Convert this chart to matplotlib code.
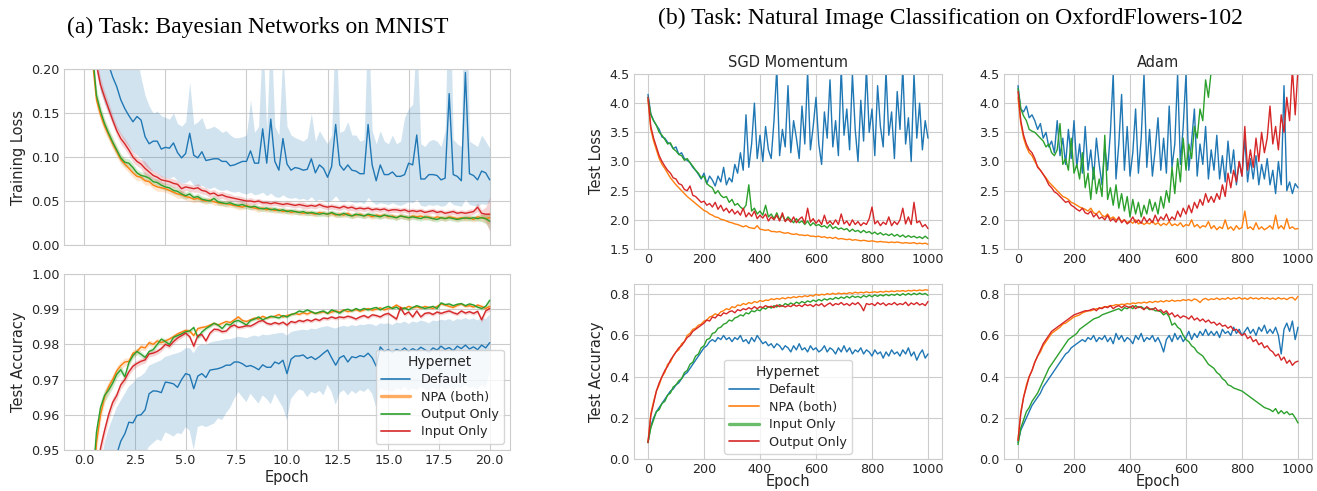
import numpy as np
import matplotlib
matplotlib.use("Agg")
import matplotlib.pyplot as plt
import seaborn as sns
from matplotlib.lines import Line2D

# ---------------------------------------------------------------- data
# (a) Bayesian networks on MNIST, logged every 0.2 epoch
mnist_epochs = np.round(np.arange(1, 101) * 0.2, 1)

mnist_loss_default = np.array([
    0.400, 0.320, 0.270, 0.240, 0.220, 0.205, 0.191, 0.180, 0.165, 0.155,
    0.147, 0.140, 0.146, 0.142, 0.123, 0.115, 0.118, 0.118, 0.109, 0.111,
    0.110, 0.116, 0.105, 0.099, 0.104, 0.127, 0.102, 0.099, 0.106, 0.096,
    0.097, 0.098, 0.098, 0.095, 0.095, 0.090, 0.091, 0.093, 0.095, 0.095,
    0.107, 0.093, 0.093, 0.132, 0.093, 0.143, 0.095, 0.085, 0.121, 0.092,
    0.085, 0.088, 0.087, 0.085, 0.086, 0.098, 0.082, 0.091, 0.087, 0.077,
    0.089, 0.137, 0.091, 0.085, 0.091, 0.085, 0.084, 0.081, 0.081, 0.137,
    0.091, 0.073, 0.091, 0.080, 0.080, 0.083, 0.078, 0.078, 0.080, 0.093,
    0.091, 0.125, 0.075, 0.075, 0.080, 0.080, 0.079, 0.074, 0.076, 0.172,
    0.080, 0.078, 0.073, 0.196, 0.081, 0.079, 0.074, 0.084, 0.082, 0.074])
mnist_loss_default_hi = np.array([
    0.600, 0.500, 0.420, 0.380, 0.350, 0.330, 0.310, 0.290, 0.270, 0.250,
    0.240, 0.230, 0.215, 0.190, 0.170, 0.158, 0.150, 0.152, 0.147, 0.145,
    0.143, 0.150, 0.138, 0.135, 0.140, 0.185, 0.137, 0.140, 0.145, 0.132,
    0.133, 0.135, 0.132, 0.128, 0.130, 0.125, 0.122, 0.122, 0.123, 0.125,
    0.165, 0.128, 0.135, 0.240, 0.130, 0.250, 0.135, 0.125, 0.220, 0.135,
    0.125, 0.122, 0.120, 0.118, 0.122, 0.150, 0.118, 0.130, 0.122, 0.115,
    0.125, 0.260, 0.128, 0.130, 0.140, 0.125, 0.125, 0.118, 0.120, 0.260,
    0.130, 0.115, 0.130, 0.118, 0.115, 0.125, 0.115, 0.118, 0.145, 0.155,
    0.160, 0.240, 0.115, 0.112, 0.118, 0.120, 0.118, 0.112, 0.130, 0.330,
    0.120, 0.115, 0.112, 0.380, 0.118, 0.115, 0.112, 0.125, 0.118, 0.110])
mnist_loss_default_lo = np.array([
    0.300, 0.240, 0.200, 0.175, 0.160, 0.150, 0.140, 0.132, 0.125, 0.118,
    0.112, 0.106, 0.102, 0.098, 0.090, 0.086, 0.084, 0.082, 0.078, 0.077,
    0.076, 0.078, 0.073, 0.070, 0.071, 0.074, 0.068, 0.067, 0.068, 0.065,
    0.064, 0.066, 0.063, 0.062, 0.063, 0.061, 0.060, 0.061, 0.059, 0.058,
    0.060, 0.057, 0.058, 0.060, 0.056, 0.059, 0.055, 0.054, 0.057, 0.054,
    0.053, 0.054, 0.052, 0.053, 0.051, 0.055, 0.050, 0.052, 0.051, 0.049,
    0.051, 0.056, 0.050, 0.049, 0.051, 0.049, 0.048, 0.049, 0.047, 0.054,
    0.049, 0.046, 0.048, 0.047, 0.046, 0.048, 0.046, 0.045, 0.047, 0.049,
    0.048, 0.052, 0.045, 0.044, 0.046, 0.045, 0.046, 0.044, 0.045, 0.050,
    0.046, 0.045, 0.044, 0.052, 0.046, 0.045, 0.044, 0.047, 0.046, 0.049])

mnist_loss_npa = np.array([
    0.380, 0.210, 0.165, 0.148, 0.135, 0.125, 0.115, 0.106, 0.097, 0.092,
    0.087, 0.082, 0.078, 0.077, 0.073, 0.072, 0.068, 0.066, 0.065, 0.064,
    0.062, 0.060, 0.058, 0.057, 0.055, 0.054, 0.052, 0.053, 0.051, 0.050,
    0.051, 0.049, 0.048, 0.047, 0.047, 0.046, 0.045, 0.044, 0.043, 0.045,
    0.043, 0.042, 0.041, 0.042, 0.040, 0.041, 0.039, 0.040, 0.038, 0.039,
    0.037, 0.038, 0.037, 0.036, 0.037, 0.036, 0.035, 0.037, 0.036, 0.035,
    0.036, 0.034, 0.035, 0.034, 0.036, 0.033, 0.034, 0.035, 0.033, 0.034,
    0.032, 0.034, 0.033, 0.034, 0.032, 0.033, 0.031, 0.033, 0.032, 0.031,
    0.033, 0.032, 0.033, 0.031, 0.032, 0.030, 0.032, 0.031, 0.030, 0.032,
    0.031, 0.030, 0.031, 0.030, 0.031, 0.029, 0.032, 0.031, 0.030, 0.031])
mnist_loss_output = np.array([
    0.400, 0.220, 0.170, 0.152, 0.138, 0.127, 0.117, 0.108, 0.099, 0.094,
    0.093, 0.088, 0.082, 0.079, 0.078, 0.076, 0.072, 0.071, 0.068, 0.066,
    0.065, 0.062, 0.061, 0.058, 0.056, 0.058, 0.054, 0.055, 0.052, 0.051,
    0.050, 0.053, 0.049, 0.048, 0.047, 0.048, 0.046, 0.045, 0.046, 0.044,
    0.043, 0.044, 0.042, 0.041, 0.042, 0.040, 0.041, 0.039, 0.040, 0.038,
    0.039, 0.038, 0.037, 0.038, 0.036, 0.037, 0.036, 0.035, 0.036, 0.035,
    0.037, 0.035, 0.034, 0.036, 0.034, 0.033, 0.035, 0.034, 0.033, 0.035,
    0.034, 0.033, 0.032, 0.034, 0.033, 0.032, 0.031, 0.033, 0.032, 0.031,
    0.032, 0.031, 0.030, 0.032, 0.031, 0.030, 0.029, 0.031, 0.030, 0.031,
    0.030, 0.029, 0.030, 0.031, 0.030, 0.031, 0.030, 0.031, 0.030, 0.027])
mnist_loss_input = np.array([
    0.450, 0.280, 0.205, 0.182, 0.168, 0.155, 0.142, 0.130, 0.121, 0.115,
    0.108, 0.100, 0.095, 0.092, 0.087, 0.083, 0.079, 0.077, 0.074, 0.073,
    0.072, 0.070, 0.069, 0.064, 0.066, 0.065, 0.064, 0.065, 0.062, 0.061,
    0.058, 0.059, 0.056, 0.057, 0.055, 0.054, 0.053, 0.052, 0.051, 0.050,
    0.050, 0.049, 0.050, 0.048, 0.048, 0.047, 0.048, 0.047, 0.046, 0.047,
    0.046, 0.045, 0.046, 0.045, 0.044, 0.045, 0.044, 0.046, 0.044, 0.043,
    0.044, 0.043, 0.042, 0.044, 0.042, 0.043, 0.041, 0.042, 0.041, 0.042,
    0.040, 0.041, 0.040, 0.041, 0.039, 0.040, 0.040, 0.039, 0.040, 0.038,
    0.039, 0.038, 0.039, 0.037, 0.038, 0.039, 0.037, 0.038, 0.036, 0.037,
    0.038, 0.036, 0.037, 0.036, 0.037, 0.038, 0.043, 0.036, 0.035, 0.035])

# spread of the seeds around each mean (loss in 1e-3)
mnist_loss_sd_npa = np.array([
    12, 10, 8, 7, 7, 6, 6, 6, 5, 5, 5, 5, 5, 4, 5, 4, 4, 5, 4, 4,
    4, 4, 5, 4, 4, 4, 4, 4, 3, 4, 3, 4, 3, 3, 4, 3, 3, 4, 3, 3,
    3, 3, 4, 3, 3, 3, 3, 3, 3, 3, 3, 3, 3, 3, 3, 3, 3, 3, 3, 3,
    3, 3, 3, 3, 3, 3, 3, 3, 3, 3, 3, 3, 3, 3, 3, 3, 3, 3, 3, 3,
    3, 3, 3, 3, 3, 3, 3, 3, 3, 3, 3, 3, 3, 3, 3, 3, 4, 4, 5, 7]) * 1e-3
mnist_loss_sd_output = np.array([
    12, 10, 8, 7, 6, 6, 6, 5, 5, 5, 5, 5, 4, 4, 5, 4, 4, 4, 4, 4,
    4, 4, 4, 4, 4, 4, 3, 4, 4, 3, 3, 3, 4, 3, 3, 3, 3, 3, 4, 3,
    3, 3, 3, 3, 3, 3, 3, 3, 3, 3, 3, 3, 3, 3, 3, 3, 3, 3, 3, 3,
    3, 3, 3, 3, 3, 3, 3, 3, 3, 3, 3, 3, 3, 3, 3, 3, 3, 3, 3, 3,
    3, 3, 3, 3, 3, 3, 3, 3, 3, 3, 3, 3, 3, 3, 3, 3, 3, 4, 6, 9]) * 1e-3
mnist_loss_sd_input = np.array([
    14, 12, 10, 8, 7, 7, 6, 6, 6, 6, 6, 6, 5, 5, 8, 6, 5, 5, 5, 4,
    4, 5, 4, 6, 4, 4, 4, 5, 4, 4, 4, 4, 4, 4, 4, 4, 3, 4, 4, 3,
    4, 3, 3, 3, 3, 3, 3, 3, 3, 3, 3, 3, 3, 4, 3, 3, 3, 3, 3, 3,
    3, 3, 3, 3, 3, 4, 3, 3, 3, 3, 3, 3, 3, 3, 3, 3, 3, 3, 3, 3,
    3, 3, 3, 3, 3, 3, 3, 3, 3, 3, 3, 3, 3, 3, 4, 3, 5, 4, 8, 20]) * 1e-3

mnist_acc_default = np.array([
    0.8000, 0.8600, 0.9000, 0.9200, 0.9320, 0.9400, 0.9450, 0.9488, 0.9525, 0.9546,
    0.9579, 0.9577, 0.9598, 0.9600, 0.9614, 0.9660, 0.9668, 0.9667, 0.9663, 0.9693,
    0.9691, 0.9688, 0.9678, 0.9700, 0.9717, 0.9713, 0.9674, 0.9710, 0.9717, 0.9706,
    0.9727, 0.9729, 0.9731, 0.9735, 0.9741, 0.9741, 0.9750, 0.9750, 0.9745, 0.9737,
    0.9740, 0.9735, 0.9728, 0.9742, 0.9735, 0.9735, 0.9750, 0.9745, 0.9755, 0.9717,
    0.9758, 0.9767, 0.9767, 0.9770, 0.9760, 0.9765, 0.9757, 0.9765, 0.9775, 0.9784,
    0.9762, 0.9741, 0.9762, 0.9768, 0.9750, 0.9765, 0.9762, 0.9768, 0.9765, 0.9775,
    0.9762, 0.9738, 0.9793, 0.9780, 0.9785, 0.9778, 0.9786, 0.9781, 0.9790, 0.9780,
    0.9788, 0.9782, 0.9792, 0.9785, 0.9778, 0.9790, 0.9784, 0.9795, 0.9786, 0.9791,
    0.9782, 0.9795, 0.9788, 0.9798, 0.9787, 0.9793, 0.9785, 0.9798, 0.9790, 0.9805])
mnist_acc_default_hi = np.array([
    0.8700, 0.9100, 0.9300, 0.9450, 0.9520, 0.9560, 0.9590, 0.9620, 0.9640, 0.9660,
    0.9680, 0.9690, 0.9705, 0.9710, 0.9720, 0.9740, 0.9745, 0.9750, 0.9755, 0.9765,
    0.9768, 0.9772, 0.9775, 0.9780, 0.9789, 0.9790, 0.9775, 0.9795, 0.9800, 0.9798,
    0.9805, 0.9808, 0.9810, 0.9812, 0.9815, 0.9815, 0.9818, 0.9822, 0.9820, 0.9818,
    0.9822, 0.9825, 0.9822, 0.9828, 0.9826, 0.9828, 0.9830, 0.9832, 0.9833, 0.9825,
    0.9835, 0.9838, 0.9840, 0.9842, 0.9840, 0.9845, 0.9843, 0.9847, 0.9850, 0.9852,
    0.9848, 0.9845, 0.9850, 0.9853, 0.9850, 0.9855, 0.9852, 0.9856, 0.9855, 0.9858,
    0.9857, 0.9852, 0.9860, 0.9858, 0.9860, 0.9855, 0.9862, 0.9860, 0.9865, 0.9858,
    0.9865, 0.9862, 0.9868, 0.9865, 0.9860, 0.9868, 0.9866, 0.9870, 0.9868, 0.9872,
    0.9866, 0.9872, 0.9870, 0.9875, 0.9870, 0.9874, 0.9868, 0.9876, 0.9872, 0.9885])
mnist_acc_default_lo = np.array([
    0.7000, 0.8000, 0.8600, 0.8900, 0.9050, 0.9150, 0.9220, 0.9280, 0.9330, 0.9370,
    0.9400, 0.9420, 0.9450, 0.9470, 0.9490, 0.9510, 0.9520, 0.9530, 0.9525, 0.9550,
    0.9545, 0.9538, 0.9548, 0.9545, 0.9565, 0.9555, 0.9500, 0.9565, 0.9570, 0.9565,
    0.9570, 0.9575, 0.9590, 0.9585, 0.9605, 0.9620, 0.9645, 0.9665, 0.9650, 0.9636,
    0.9660, 0.9645, 0.9632, 0.9655, 0.9645, 0.9630, 0.9660, 0.9640, 0.9620, 0.9585,
    0.9645, 0.9660, 0.9672, 0.9668, 0.9650, 0.9665, 0.9660, 0.9668, 0.9655, 0.9685,
    0.9665, 0.9628, 0.9662, 0.9670, 0.9655, 0.9668, 0.9660, 0.9670, 0.9665, 0.9675,
    0.9660, 0.9620, 0.9675, 0.9668, 0.9670, 0.9665, 0.9675, 0.9670, 0.9680, 0.9668,
    0.9675, 0.9670, 0.9680, 0.9672, 0.9665, 0.9678, 0.9670, 0.9680, 0.9672, 0.9678,
    0.9670, 0.9680, 0.9675, 0.9685, 0.9675, 0.9680, 0.9672, 0.9685, 0.9678, 0.9720])

mnist_acc_npa = np.array([
    0.9000, 0.9350, 0.9520, 0.9600, 0.9650, 0.9680, 0.9700, 0.9725, 0.9740, 0.9750,
    0.9752, 0.9775, 0.9780, 0.9793, 0.9790, 0.9805, 0.9800, 0.9810, 0.9805, 0.9810,
    0.9815, 0.9822, 0.9830, 0.9835, 0.9840, 0.9838, 0.9825, 0.9845, 0.9848, 0.9850,
    0.9855, 0.9860, 0.9855, 0.9860, 0.9865, 0.9862, 0.9870, 0.9878, 0.9868, 0.9865,
    0.9870, 0.9875, 0.9872, 0.9880, 0.9875, 0.9878, 0.9880, 0.9885, 0.9878, 0.9882,
    0.9885, 0.9888, 0.9885, 0.9890, 0.9886, 0.9892, 0.9888, 0.9890, 0.9893, 0.9888,
    0.9892, 0.9895, 0.9892, 0.9898, 0.9893, 0.9896, 0.9899, 0.9894, 0.9898, 0.9902,
    0.9897, 0.9900, 0.9904, 0.9898, 0.9902, 0.9905, 0.9912, 0.9905, 0.9902, 0.9908,
    0.9904, 0.9907, 0.9903, 0.9908, 0.9905, 0.9902, 0.9908, 0.9915, 0.9912, 0.9908,
    0.9905, 0.9911, 0.9915, 0.9908, 0.9910, 0.9906, 0.9912, 0.9908, 0.9902, 0.9908])
mnist_acc_output = np.array([
    0.9050, 0.9400, 0.9550, 0.9620, 0.9655, 0.9670, 0.9690, 0.9715, 0.9728, 0.9708,
    0.9748, 0.9768, 0.9780, 0.9772, 0.9763, 0.9780, 0.9785, 0.9800, 0.9815, 0.9808,
    0.9800, 0.9820, 0.9825, 0.9830, 0.9836, 0.9838, 0.9848, 0.9820, 0.9835, 0.9845,
    0.9852, 0.9860, 0.9855, 0.9845, 0.9858, 0.9855, 0.9865, 0.9868, 0.9862, 0.9855,
    0.9868, 0.9872, 0.9878, 0.9870, 0.9875, 0.9880, 0.9878, 0.9875, 0.9882, 0.9878,
    0.9885, 0.9888, 0.9895, 0.9892, 0.9898, 0.9893, 0.9888, 0.9892, 0.9895, 0.9888,
    0.9898, 0.9894, 0.9889, 0.9897, 0.9900, 0.9895, 0.9902, 0.9897, 0.9902, 0.9898,
    0.9902, 0.9905, 0.9898, 0.9904, 0.9908, 0.9902, 0.9906, 0.9898, 0.9904, 0.9898,
    0.9905, 0.9910, 0.9906, 0.9902, 0.9905, 0.9908, 0.9902, 0.9918, 0.9913, 0.9915,
    0.9910, 0.9914, 0.9916, 0.9910, 0.9915, 0.9912, 0.9906, 0.9902, 0.9908, 0.9925])
mnist_acc_input = np.array([
    0.8800, 0.9200, 0.9400, 0.9505, 0.9555, 0.9600, 0.9635, 0.9655, 0.9685, 0.9700,
    0.9722, 0.9738, 0.9746, 0.9752, 0.9756, 0.9773, 0.9775, 0.9780, 0.9788, 0.9800,
    0.9795, 0.9808, 0.9818, 0.9825, 0.9832, 0.9822, 0.9795, 0.9825, 0.9828, 0.9810,
    0.9832, 0.9843, 0.9842, 0.9836, 0.9838, 0.9850, 0.9855, 0.9848, 0.9850, 0.9853,
    0.9852, 0.9858, 0.9865, 0.9868, 0.9860, 0.9857, 0.9862, 0.9858, 0.9863, 0.9855,
    0.9865, 0.9862, 0.9868, 0.9865, 0.9870, 0.9866, 0.9872, 0.9868, 0.9875, 0.9873,
    0.9878, 0.9874, 0.9878, 0.9876, 0.9880, 0.9877, 0.9872, 0.9878, 0.9882, 0.9876,
    0.9884, 0.9882, 0.9878, 0.9885, 0.9888, 0.9880, 0.9872, 0.9905, 0.9885, 0.9892,
    0.9878, 0.9895, 0.9878, 0.9888, 0.9890, 0.9885, 0.9892, 0.9888, 0.9892, 0.9895,
    0.9890, 0.9886, 0.9895, 0.9889, 0.9893, 0.9888, 0.9894, 0.9870, 0.9895, 0.9902])

# spread of the seeds around each mean (accuracy in 1e-4)
mnist_acc_sd_npa = np.array([
    40, 30, 25, 20, 18, 15, 14, 12, 12, 11, 10, 10, 9, 9, 8, 8, 8, 8, 7, 7,
    7, 7, 6, 6, 6, 6, 6, 6, 6, 5, 5, 5, 5, 5, 5, 5, 5, 5, 5, 5,
    5, 4, 4, 4, 4, 4, 4, 4, 4, 4, 4, 4, 4, 4, 4, 4, 4, 4, 4, 4,
    4, 4, 4, 4, 4, 4, 4, 4, 4, 4, 4, 4, 4, 4, 4, 4, 4, 4, 4, 4,
    4, 4, 4, 4, 4, 4, 4, 4, 4, 4, 4, 4, 4, 4, 4, 4, 4, 5, 6, 8]) * 1e-4
mnist_acc_sd_output = np.array([
    40, 32, 26, 20, 17, 15, 14, 12, 11, 11, 10, 9, 9, 8, 8, 8, 8, 7, 7, 7,
    7, 6, 6, 6, 6, 6, 6, 7, 6, 5, 5, 5, 5, 5, 5, 5, 5, 5, 5, 5,
    5, 5, 5, 4, 4, 4, 4, 4, 4, 4, 4, 4, 4, 4, 4, 4, 4, 4, 4, 4,
    4, 4, 4, 4, 4, 4, 4, 4, 4, 4, 4, 4, 4, 4, 4, 4, 4, 4, 4, 4,
    4, 4, 4, 4, 4, 4, 4, 4, 4, 4, 4, 4, 4, 4, 4, 4, 4, 5, 7, 10]) * 1e-4
mnist_acc_sd_input = np.array([
    45, 35, 28, 22, 18, 16, 14, 13, 12, 11, 10, 10, 9, 9, 9, 8, 8, 8, 8, 7,
    7, 7, 7, 7, 6, 6, 9, 6, 6, 7, 6, 6, 6, 5, 5, 5, 5, 5, 5, 5,
    5, 5, 5, 5, 5, 5, 5, 5, 5, 5, 5, 5, 5, 5, 5, 5, 5, 5, 5, 5,
    5, 5, 5, 5, 5, 5, 5, 5, 5, 5, 5, 5, 5, 5, 5, 5, 6, 6, 5, 5,
    5, 5, 5, 5, 5, 5, 5, 5, 5, 5, 5, 5, 5, 5, 5, 5, 5, 8, 6, 8]) * 1e-4

# (b) OxfordFlowers-102, logged every 10 epochs
flowers_epochs = np.arange(0, 1001, 10)

sgd_loss_default = [
    4.15, 3.82, 3.70, 3.62, 3.55, 3.42, 3.40, 3.33, 3.30, 3.22,
    3.25, 3.12, 3.15, 3.05, 3.02, 2.98, 2.90, 2.85, 2.78, 2.70,
    2.80, 2.62, 2.75, 2.68, 2.58, 2.75, 2.65, 2.90, 2.60, 2.72,
    2.65, 2.95, 2.80, 3.15, 2.85, 3.80, 2.90, 3.30, 4.00, 3.05,
    3.45, 3.00, 3.60, 3.20, 3.05, 3.70, 4.60, 3.10, 3.55, 3.25,
    4.30, 3.15, 3.70, 3.40, 3.05, 3.95, 3.30, 4.55, 3.20, 3.60,
    4.10, 3.30, 2.95, 3.85, 3.40, 4.40, 3.25, 3.70, 3.10, 4.60,
    3.45, 3.90, 3.20, 4.50, 3.55, 3.00, 4.05, 3.35, 4.60, 3.50,
    3.90, 3.10, 4.30, 3.60, 3.25, 4.55, 3.45, 3.85, 3.05, 4.20,
    3.55, 4.60, 3.30, 3.75, 3.00, 4.50, 3.40, 4.00, 3.20, 3.70,
    3.40]
sgd_loss_npa = [
    4.05, 3.55, 3.35, 3.20, 3.05, 2.95, 2.88, 2.80, 2.72, 2.66,
    2.60, 2.55, 2.50, 2.45, 2.40, 2.36, 2.32, 2.28, 2.24, 2.20,
    2.16, 2.14, 2.10, 2.08, 2.05, 2.04, 2.01, 2.00, 1.98, 1.96,
    1.95, 1.93, 1.92, 1.90, 1.88, 1.90, 1.87, 1.86, 1.85, 1.90,
    1.84, 1.83, 1.82, 1.83, 1.80, 1.80, 1.79, 1.80, 1.78, 1.77,
    1.78, 1.76, 1.75, 1.76, 1.74, 1.74, 1.73, 1.74, 1.72, 1.72,
    1.71, 1.72, 1.70, 1.71, 1.69, 1.70, 1.68, 1.70, 1.67, 1.68,
    1.67, 1.66, 1.67, 1.65, 1.66, 1.65, 1.64, 1.65, 1.64, 1.63,
    1.64, 1.63, 1.62, 1.63, 1.62, 1.62, 1.61, 1.62, 1.61, 1.62,
    1.61, 1.60, 1.61, 1.60, 1.60, 1.61, 1.59, 1.60, 1.59, 1.60,
    1.58]
sgd_loss_input = [
    4.10, 3.80, 3.70, 3.62, 3.50, 3.45, 3.38, 3.30, 3.32, 3.22,
    3.18, 3.12, 3.10, 3.02, 3.05, 2.98, 2.92, 2.85, 2.80, 2.72,
    2.75, 2.62, 2.58, 2.55, 2.45, 2.50, 2.42, 2.38, 2.40, 2.30,
    2.35, 2.25, 2.28, 2.22, 2.18, 2.25, 2.60, 2.15, 2.20, 2.10,
    2.15, 2.08, 2.25, 2.05, 2.10, 2.02, 2.12, 2.00, 2.08, 1.98,
    2.05, 2.00, 1.95, 2.02, 1.95, 1.98, 1.92, 1.98, 1.90, 1.95,
    1.90, 1.92, 1.88, 1.90, 1.86, 1.92, 1.85, 1.88, 1.84, 1.86,
    1.83, 1.85, 1.80, 1.84, 1.80, 1.82, 1.78, 1.82, 1.78, 1.80,
    1.76, 1.79, 1.75, 1.78, 1.74, 1.76, 1.73, 1.76, 1.72, 1.75,
    1.71, 1.74, 1.70, 1.73, 1.70, 1.72, 1.69, 1.71, 1.68, 1.72,
    1.68]
sgd_loss_output = [
    4.10, 3.60, 3.40, 3.25, 3.10, 3.00, 2.92, 2.85, 2.80, 2.72,
    2.70, 2.62, 2.60, 2.52, 2.50, 2.58, 2.42, 2.40, 2.35, 2.30,
    2.32, 2.25, 2.28, 2.22, 2.30, 2.18, 2.25, 2.15, 2.20, 2.12,
    2.18, 2.10, 2.15, 2.08, 2.20, 2.05, 2.12, 2.06, 2.15, 2.02,
    2.08, 2.03, 2.10, 1.98, 2.05, 2.00, 2.08, 1.98, 2.12, 1.97,
    2.02, 1.96, 2.05, 1.95, 2.01, 2.05, 1.94, 2.20, 1.96, 2.02,
    1.94, 2.00, 1.92, 2.08, 1.93, 1.98, 1.92, 2.00, 1.92, 2.10,
    1.93, 1.98, 1.90, 2.00, 1.92, 1.97, 1.90, 1.95, 1.92, 2.02,
    2.22, 1.93, 1.98, 1.90, 1.96, 1.92, 2.05, 1.90, 1.97, 1.92,
    2.00, 2.20, 1.93, 2.05, 1.92, 2.30, 1.95, 1.98, 1.88, 1.92,
    1.85]

adam_loss_default = [
    4.30, 3.90, 3.85, 3.95, 3.75, 3.80, 3.70, 3.55, 3.65, 3.40,
    3.50, 3.25, 3.35, 3.15, 3.70, 3.10, 3.40, 2.95, 3.55, 3.05,
    3.70, 2.90, 3.30, 2.80, 3.60, 2.85, 3.20, 2.70, 3.40, 2.95,
    2.60, 3.25, 2.85, 3.50, 4.50, 2.70, 3.30, 4.15, 2.85, 3.60,
    2.75, 3.15, 3.90, 2.80, 3.40, 4.50, 2.90, 3.55, 2.75, 3.20,
    3.75, 2.85, 3.40, 2.80, 3.95, 2.90, 3.30, 4.50, 2.95, 3.60,
    4.50, 2.85, 3.35, 3.90, 2.75, 3.30, 2.95, 3.60, 2.70, 3.20,
    2.85, 3.45, 2.70, 3.10, 2.65, 3.35, 2.80, 3.20, 2.60, 3.00,
    2.75, 3.40, 2.65, 3.05, 2.70, 3.10, 2.60, 2.95, 2.70, 3.05,
    2.60, 2.85, 2.45, 3.00, 2.60, 4.30, 2.50, 2.65, 2.45, 2.62,
    2.55]
adam_loss_npa = [
    4.10, 3.65, 3.40, 3.25, 3.15, 3.10, 3.00, 2.92, 2.85, 2.78,
    2.72, 2.65, 2.60, 2.55, 2.50, 2.45, 2.40, 2.38, 2.35, 2.30,
    2.28, 2.25, 2.22, 2.20, 2.18, 2.15, 2.20, 2.12, 2.10, 2.15,
    2.08, 2.05, 2.10, 2.02, 2.05, 2.00, 2.02, 1.98, 2.00, 1.95,
    1.98, 1.94, 2.00, 1.93, 1.96, 1.92, 1.95, 1.93, 1.98, 1.92,
    1.95, 1.90, 1.94, 1.91, 1.97, 1.90, 1.93, 1.90, 1.95, 1.88,
    1.92, 1.90, 2.00, 1.88, 1.92, 1.86, 1.90, 1.88, 1.97, 1.85,
    1.90, 1.83, 1.88, 1.85, 2.00, 1.84, 1.88, 1.82, 1.90, 1.84,
    1.87, 2.15, 1.85, 1.88, 1.83, 1.95, 1.84, 1.88, 1.83, 1.86,
    1.90, 1.84, 2.08, 1.85, 1.90, 1.84, 2.02, 1.85, 1.88, 1.84,
    1.85]
# Input Only diverges above the plotted range after epoch 700
adam_loss_input = [
    4.25, 3.90, 3.78, 3.70, 3.55, 3.52, 3.50, 3.45, 3.40, 3.35,
    3.25, 3.30, 3.15, 3.10, 3.20, 3.65, 2.95, 3.05, 2.85, 3.40,
    2.80, 2.95, 2.70, 3.15, 2.55, 2.80, 2.35, 2.90, 2.45, 2.70,
    2.40, 3.45, 2.35, 2.55, 2.25, 2.60, 2.20, 2.45, 2.15, 2.40,
    2.05, 2.35, 2.10, 2.30, 2.05, 2.25, 2.10, 2.35, 2.15, 2.30,
    2.10, 2.40, 2.20, 2.50, 2.30, 2.90, 2.45, 3.05, 2.65, 3.40,
    2.85, 3.30, 3.05, 3.60, 3.40, 3.90, 3.70, 4.40, 4.10, 4.55,
    5.00]
adam_loss_output = [
    4.20, 3.70, 3.45, 3.30, 3.20, 3.15, 3.05, 2.90, 2.85, 2.78,
    2.70, 2.60, 2.55, 2.48, 2.45, 2.40, 2.35, 2.30, 2.32, 2.25,
    2.22, 2.18, 2.15, 2.20, 2.12, 2.10, 2.15, 2.05, 2.10, 2.02,
    2.05, 2.00, 2.08, 1.98, 2.02, 1.96, 2.05, 1.95, 2.00, 1.93,
    1.97, 2.05, 1.95, 2.00, 1.94, 2.05, 1.96, 2.02, 1.95, 2.08,
    1.97, 2.05, 2.00, 2.10, 1.98, 2.05, 2.00, 2.15, 2.05, 2.20,
    2.10, 2.25, 2.12, 2.30, 2.20, 2.35, 2.25, 2.45, 2.30, 2.40,
    2.30, 2.45, 2.35, 2.60, 2.40, 2.80, 2.55, 2.85, 2.65, 3.00,
    2.75, 3.60, 2.85, 3.20, 2.90, 3.40, 3.00, 3.50, 3.15, 3.40,
    3.95, 3.30, 3.60, 3.20, 3.80, 3.50, 4.10, 3.70, 4.60, 3.80,
    4.60]

sgd_acc_default = [
    0.08, 0.16, 0.20, 0.23, 0.25, 0.27, 0.29, 0.31, 0.33, 0.34,
    0.36, 0.37, 0.39, 0.41, 0.42, 0.44, 0.46, 0.48, 0.50, 0.52,
    0.54, 0.55, 0.57, 0.58, 0.57, 0.59, 0.58, 0.60, 0.58, 0.59,
    0.57, 0.59, 0.58, 0.60, 0.57, 0.58, 0.56, 0.59, 0.57, 0.60,
    0.58, 0.56, 0.57, 0.55, 0.56, 0.54, 0.56, 0.55, 0.53, 0.55,
    0.54, 0.52, 0.55, 0.53, 0.56, 0.53, 0.54, 0.52, 0.55, 0.53,
    0.54, 0.52, 0.53, 0.55, 0.52, 0.54, 0.53, 0.51, 0.54, 0.52,
    0.55, 0.52, 0.54, 0.51, 0.53, 0.52, 0.54, 0.51, 0.53, 0.52,
    0.50, 0.53, 0.51, 0.52, 0.49, 0.52, 0.50, 0.53, 0.51, 0.52,
    0.50, 0.53, 0.51, 0.54, 0.50, 0.52, 0.48, 0.51, 0.53, 0.49,
    0.51]
sgd_acc_npa = [
    0.08, 0.22, 0.28, 0.33, 0.36, 0.40, 0.42, 0.46, 0.47, 0.50,
    0.52, 0.53, 0.56, 0.57, 0.60, 0.61, 0.63, 0.635, 0.65, 0.655,
    0.67, 0.675, 0.69, 0.695, 0.705, 0.70, 0.715, 0.72, 0.73, 0.725,
    0.74, 0.735, 0.748, 0.745, 0.755, 0.75, 0.76, 0.755, 0.765, 0.76,
    0.77, 0.765, 0.772, 0.77, 0.778, 0.774, 0.78, 0.776, 0.783, 0.778,
    0.785, 0.782, 0.788, 0.784, 0.79, 0.787, 0.793, 0.789, 0.795, 0.791,
    0.80, 0.795, 0.80, 0.797, 0.803, 0.799, 0.805, 0.80, 0.806, 0.802,
    0.805, 0.803, 0.808, 0.804, 0.81, 0.806, 0.81, 0.807, 0.812, 0.808,
    0.81, 0.812, 0.809, 0.814, 0.81, 0.815, 0.812, 0.816, 0.813, 0.817,
    0.815, 0.818, 0.814, 0.819, 0.816, 0.82, 0.817, 0.821, 0.818, 0.822,
    0.82]
sgd_acc_input = [
    0.08, 0.15, 0.19, 0.23, 0.24, 0.27, 0.28, 0.31, 0.32, 0.35,
    0.36, 0.38, 0.39, 0.42, 0.43, 0.46, 0.47, 0.50, 0.51, 0.54,
    0.55, 0.58, 0.585, 0.61, 0.615, 0.635, 0.64, 0.655, 0.66, 0.675,
    0.67, 0.685, 0.69, 0.70, 0.695, 0.71, 0.705, 0.72, 0.715, 0.725,
    0.72, 0.735, 0.728, 0.74, 0.733, 0.745, 0.738, 0.75, 0.742, 0.755,
    0.748, 0.758, 0.75, 0.762, 0.755, 0.765, 0.758, 0.768, 0.762, 0.772,
    0.765, 0.775, 0.768, 0.778, 0.772, 0.78, 0.775, 0.785, 0.778, 0.787,
    0.78, 0.79, 0.782, 0.792, 0.785, 0.79, 0.783, 0.794, 0.787, 0.796,
    0.788, 0.797, 0.79, 0.798, 0.792, 0.80, 0.793, 0.80, 0.795, 0.802,
    0.794, 0.803, 0.796, 0.804, 0.797, 0.805, 0.798, 0.806, 0.799, 0.804,
    0.795]
sgd_acc_output = [
    0.08, 0.21, 0.27, 0.33, 0.37, 0.40, 0.43, 0.45, 0.48, 0.50,
    0.52, 0.54, 0.55, 0.57, 0.59, 0.60, 0.62, 0.63, 0.64, 0.65,
    0.66, 0.675, 0.67, 0.69, 0.685, 0.70, 0.695, 0.71, 0.705, 0.715,
    0.72, 0.71, 0.725, 0.72, 0.73, 0.725, 0.735, 0.728, 0.74, 0.73,
    0.74, 0.735, 0.745, 0.738, 0.742, 0.735, 0.748, 0.74, 0.745, 0.738,
    0.745, 0.74, 0.75, 0.742, 0.748, 0.74, 0.752, 0.745, 0.75, 0.74,
    0.752, 0.745, 0.755, 0.74, 0.75, 0.758, 0.745, 0.755, 0.75, 0.76,
    0.748, 0.755, 0.745, 0.758, 0.75, 0.76, 0.745, 0.72, 0.755, 0.75,
    0.755, 0.745, 0.76, 0.75, 0.758, 0.745, 0.755, 0.75, 0.76, 0.748,
    0.755, 0.75, 0.762, 0.745, 0.758, 0.75, 0.76, 0.748, 0.755, 0.745,
    0.765]

adam_acc_default = [
    0.08, 0.14, 0.17, 0.20, 0.23, 0.26, 0.28, 0.30, 0.32, 0.35,
    0.37, 0.39, 0.41, 0.43, 0.45, 0.47, 0.49, 0.51, 0.52, 0.54,
    0.55, 0.56, 0.57, 0.58, 0.57, 0.59, 0.58, 0.60, 0.57, 0.59,
    0.58, 0.60, 0.57, 0.59, 0.56, 0.61, 0.58, 0.60, 0.57, 0.59,
    0.58, 0.56, 0.60, 0.58, 0.61, 0.57, 0.59, 0.58, 0.60, 0.57,
    0.59, 0.56, 0.52, 0.58, 0.60, 0.57, 0.61, 0.58, 0.60, 0.57,
    0.59, 0.62, 0.58, 0.61, 0.59, 0.62, 0.60, 0.63, 0.60, 0.62,
    0.60, 0.62, 0.59, 0.63, 0.61, 0.62, 0.60, 0.64, 0.61, 0.63,
    0.60, 0.62, 0.64, 0.61, 0.63, 0.60, 0.64, 0.62, 0.65, 0.61,
    0.63, 0.61, 0.64, 0.60, 0.51, 0.63, 0.66, 0.62, 0.67, 0.58,
    0.64]
adam_acc_npa = [
    0.09, 0.23, 0.30, 0.36, 0.40, 0.43, 0.47, 0.50, 0.52, 0.55,
    0.57, 0.59, 0.61, 0.62, 0.63, 0.64, 0.655, 0.66, 0.67, 0.68,
    0.69, 0.695, 0.70, 0.71, 0.715, 0.72, 0.72, 0.725, 0.73, 0.73,
    0.735, 0.74, 0.74, 0.745, 0.745, 0.75, 0.748, 0.752, 0.75, 0.755,
    0.752, 0.758, 0.755, 0.76, 0.757, 0.762, 0.758, 0.765, 0.76, 0.766,
    0.762, 0.768, 0.763, 0.77, 0.765, 0.772, 0.766, 0.77, 0.768, 0.774,
    0.77, 0.775, 0.768, 0.778, 0.772, 0.76, 0.775, 0.78, 0.772, 0.778,
    0.775, 0.782, 0.774, 0.78, 0.776, 0.784, 0.775, 0.782, 0.778, 0.785,
    0.776, 0.782, 0.775, 0.785, 0.778, 0.782, 0.776, 0.784, 0.778, 0.783,
    0.776, 0.782, 0.775, 0.784, 0.777, 0.781, 0.774, 0.783, 0.785, 0.772,
    0.79]
adam_acc_input = [
    0.07, 0.15, 0.19, 0.23, 0.25, 0.28, 0.30, 0.32, 0.35, 0.38,
    0.41, 0.44, 0.46, 0.48, 0.50, 0.52, 0.54, 0.56, 0.58, 0.59,
    0.60, 0.61, 0.63, 0.64, 0.65, 0.66, 0.67, 0.68, 0.685, 0.69,
    0.70, 0.705, 0.71, 0.715, 0.72, 0.725, 0.73, 0.72, 0.735, 0.73,
    0.74, 0.73, 0.745, 0.735, 0.74, 0.73, 0.735, 0.725, 0.73, 0.72,
    0.72, 0.715, 0.70, 0.71, 0.69, 0.65, 0.66, 0.64, 0.63, 0.60,
    0.58, 0.57, 0.55, 0.54, 0.52, 0.51, 0.50, 0.48, 0.46, 0.45,
    0.44, 0.42, 0.41, 0.39, 0.38, 0.36, 0.355, 0.345, 0.34, 0.335,
    0.33, 0.32, 0.31, 0.30, 0.29, 0.28, 0.27, 0.26, 0.25, 0.245,
    0.24, 0.23, 0.245, 0.22, 0.235, 0.22, 0.23, 0.215, 0.22, 0.20,
    0.175]
adam_acc_output = [
    0.09, 0.22, 0.30, 0.35, 0.40, 0.43, 0.47, 0.50, 0.53, 0.56,
    0.58, 0.60, 0.62, 0.63, 0.64, 0.65, 0.66, 0.67, 0.68, 0.69,
    0.70, 0.705, 0.71, 0.715, 0.72, 0.72, 0.725, 0.73, 0.72, 0.735,
    0.73, 0.74, 0.735, 0.745, 0.73, 0.74, 0.745, 0.735, 0.745, 0.74,
    0.735, 0.745, 0.73, 0.74, 0.735, 0.725, 0.74, 0.73, 0.725, 0.735,
    0.72, 0.725, 0.71, 0.72, 0.70, 0.71, 0.69, 0.70, 0.685, 0.695,
    0.69, 0.68, 0.695, 0.675, 0.685, 0.67, 0.68, 0.665, 0.675, 0.66,
    0.665, 0.65, 0.66, 0.645, 0.65, 0.635, 0.645, 0.625, 0.63, 0.615,
    0.60, 0.61, 0.585, 0.595, 0.57, 0.58, 0.555, 0.565, 0.54, 0.55,
    0.53, 0.52, 0.50, 0.51, 0.48, 0.495, 0.465, 0.48, 0.455, 0.47,
    0.475]

# ---------------------------------------------------------------- style
sns.set_style("whitegrid")
plt.rcParams['font.family'] = ['DejaVu Sans']
plt.rcParams['xtick.labelsize'] = 9.2
plt.rcParams['ytick.labelsize'] = 9.2
plt.rcParams['axes.labelsize'] = 10.5
plt.rcParams['axes.titlesize'] = 10.5

C_DEF, C_NPA, C_GRN, C_RED = "#1f77b4", "#ff7f0e", "#2ca02c", "#d62728"
LW = 1.0

W, H = 1317, 491
fig = plt.figure(figsize=(W / 100, H / 100), dpi=100)


def box(left, top, right, bottom):
    return [left / W, 1 - bottom / H, (right - left) / W, (bottom - top) / H]


axA1 = fig.add_axes(box(64, 69, 510, 245))
axA2 = fig.add_axes(box(64, 274, 510, 450))
axS1 = fig.add_axes(box(634, 74, 942, 249))
axS2 = fig.add_axes(box(634, 284, 942, 459))
axD1 = fig.add_axes(box(1004, 74, 1312, 249))
axD2 = fig.add_axes(box(1004, 284, 1312, 459))


def band_line(ax, x, mean, lo, hi, color):
    ax.fill_between(x, lo, hi, color=color, alpha=0.2, linewidth=0)
    ax.plot(x, mean, color=color, lw=LW)


# (a) training loss
band_line(axA1, mnist_epochs, mnist_loss_default,
          mnist_loss_default_lo, mnist_loss_default_hi, C_DEF)
for m, sd, c in [(mnist_loss_npa, mnist_loss_sd_npa, C_NPA),
                 (mnist_loss_output, mnist_loss_sd_output, C_GRN),
                 (mnist_loss_input, mnist_loss_sd_input, C_RED)]:
    band_line(axA1, mnist_epochs, m, m - sd, m + sd, c)
axA1.set_xlim(-1, 21)
axA1.set_ylim(0, 0.2)
axA1.set_xticks([0, 4, 8, 12, 16, 20])
axA1.tick_params(axis='x', labelbottom=False)
axA1.set_yticks([0, 0.05, 0.10, 0.15, 0.20])
axA1.set_ylabel("Training Loss")

# (a) test accuracy
band_line(axA2, mnist_epochs, mnist_acc_default,
          mnist_acc_default_lo, mnist_acc_default_hi, C_DEF)
for m, sd, c in [(mnist_acc_npa, mnist_acc_sd_npa, C_NPA),
                 (mnist_acc_output, mnist_acc_sd_output, C_GRN),
                 (mnist_acc_input, mnist_acc_sd_input, C_RED)]:
    band_line(axA2, mnist_epochs, m, m - sd, m + sd, c)
axA2.set_xlim(-1, 21)
axA2.set_ylim(0.95, 1.0)
axA2.set_xticks(np.arange(0, 20.1, 2.5))
axA2.set_yticks([0.95, 0.96, 0.97, 0.98, 0.99, 1.00])
axA2.set_ylabel("Test Accuracy")
axA2.set_xlabel("Epoch", labelpad=2)

leg_a = [Line2D([], [], color=C_DEF, lw=1.2),
         Line2D([], [], color=C_NPA, lw=2.4, alpha=0.65),
         Line2D([], [], color=C_GRN, lw=1.2),
         Line2D([], [], color=C_RED, lw=1.4, alpha=0.85)]
axA2.legend(leg_a, ["Default", "NPA (both)", "Output Only", "Input Only"],
            title="Hypernet", loc="lower right", fontsize=9.2,
            title_fontsize=10, borderaxespad=0.5, handlelength=2.3,
            labelspacing=0.35)

# (b) flowers
flower_sets = [
    (axS1, [sgd_loss_default, sgd_loss_npa, sgd_loss_input, sgd_loss_output]),
    (axD1, [adam_loss_default, adam_loss_npa, adam_loss_input, adam_loss_output]),
    (axS2, [sgd_acc_default, sgd_acc_npa, sgd_acc_input, sgd_acc_output]),
    (axD2, [adam_acc_default, adam_acc_npa, adam_acc_input, adam_acc_output]),
]
for ax, series in flower_sets:
    for vals, c in zip(series, [C_DEF, C_NPA, C_GRN, C_RED]):
        ax.plot(flowers_epochs[:len(vals)], vals, color=c, lw=LW)
    ax.set_xlim(-50, 1050)
    ax.set_xticks(np.arange(0, 1001, 200))

for ax in (axS1, axD1):
    ax.set_ylim(1.5, 4.5)
    ax.set_yticks(np.arange(1.5, 4.51, 0.5))
for ax in (axS2, axD2):
    ax.set_ylim(0, 0.85)
    ax.set_yticks([0.0, 0.2, 0.4, 0.6, 0.8])
    ax.set_xlabel("Epoch", labelpad=-1.5)

axS1.set_title("SGD Momentum", pad=5)
axD1.set_title("Adam", pad=5)
axS1.set_ylabel("Test Loss")
axS2.set_ylabel("Test Accuracy")

leg_b = [Line2D([], [], color=C_DEF, lw=1.2),
         Line2D([], [], color=C_NPA, lw=1.2),
         Line2D([], [], color=C_GRN, lw=2.4, alpha=0.7),
         Line2D([], [], color=C_RED, lw=1.2)]
axS2.legend(leg_b, ["Default", "NPA (both)", "Input Only", "Output Only"],
            title="Hypernet", loc="lower center", bbox_to_anchor=(0.5, 0.0),
            fontsize=9.2, title_fontsize=10, borderaxespad=0.4,
            handlelength=2.3, labelspacing=0.35)

for ax in (axA1, axA2, axS1, axS2, axD1, axD2):
    ax.tick_params(length=0, pad=3)

fig.text(258 / W, 1 - 27 / H, "(a) Task: Bayesian Networks on MNIST",
         family="Liberation Serif", fontsize=17, ha="center", va="center",
         color="black")
fig.text(950 / W, 1 - 18 / H,
         "(b) Task: Natural Image Classification on OxfordFlowers-102",
         family="Liberation Serif", fontsize=17, ha="center", va="center",
         color="black")

fig.savefig("out.png", dpi=100)
